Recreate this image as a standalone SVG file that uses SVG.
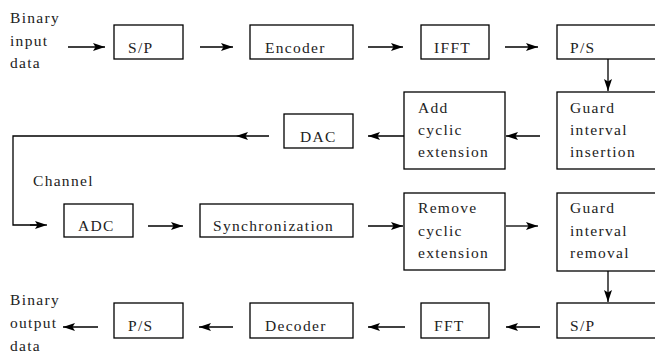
<svg xmlns="http://www.w3.org/2000/svg" width="655" height="354" viewBox="0 0 655 354">
<defs>
<marker id="ah" viewBox="0 0 12 9" refX="12" refY="4.5" markerWidth="12" markerHeight="9" markerUnits="userSpaceOnUse" orient="auto">
<path d="M0,0.5 L12,4.5 L0,8.5 L2.5,4.5 Z" fill="#000"/>
</marker>
<style>
.box{fill:#fff;stroke:#000;stroke-width:1.3}
.t{font-family:"Liberation Serif","Times New Roman",serif;font-size:15.5px;letter-spacing:1.3px;fill:#222}
.c{fill:none;stroke:#000;stroke-width:1.3;marker-end:url(#ah)}
.l{fill:none;stroke:#000;stroke-width:1.3}
</style>
</defs>
<rect width="655" height="354" fill="#fff"/>
<g id="connectors">
<path class="c" d="M68,47 H105"/>
<path class="c" d="M200,47 H233"/>
<path class="c" d="M368,47 H403"/>
<path class="c" d="M505,47 H538"/>
<path class="c" d="M608,59 V91"/>
<path class="c" d="M540,136 H506"/>
<path class="c" d="M404,136 H368"/>
<path class="c" d="M269,136 H236"/>
<path class="l" d="M236,136 H13 V225 H40"/>
<path class="c" d="M30,225 H47"/>
<path class="c" d="M148,226 H183"/>
<path class="c" d="M368,226 H403"/>
<path class="c" d="M506,226 H538"/>
<path class="c" d="M608,271 V302"/>
<path class="c" d="M540,327 H506"/>
<path class="c" d="M405,327 H368"/>
<path class="c" d="M233,327 H199"/>
<path class="c" d="M98,327 H63"/>
</g>
<g id="in-label"><text class="t" x="10" y="23">Binary</text><text class="t" x="10" y="46">input</text><text class="t" x="10" y="68">data</text></g>
<g id="sp1"><rect class="box" x="114" y="25" width="69" height="34"/><text class="t" x="128" y="53">S/P</text></g>
<g id="encoder"><rect class="box" x="250" y="25" width="103" height="34"/><text class="t" x="265" y="53">Encoder</text></g>
<g id="ifft"><rect class="box" x="421" y="25" width="68" height="34"/><text class="t" x="434" y="53">IFFT</text></g>
<g id="ps1"><rect class="box" x="557" y="25" width="100" height="34"/><text class="t" x="570" y="53">P/S</text></g>
<g id="gi-ins"><rect class="box" x="557" y="92" width="100" height="77"/><text class="t" x="570" y="113">Guard</text><text class="t" x="570" y="135">interval</text><text class="t" x="570" y="157">insertion</text></g>
<g id="add-cyc"><rect class="box" x="404" y="92" width="101" height="77"/><text class="t" x="418" y="113">Add</text><text class="t" x="418" y="135">cyclic</text><text class="t" x="418" y="157">extension</text></g>
<g id="dac"><rect class="box" x="284" y="114" width="69" height="34"/><text class="t" x="300" y="142">DAC</text></g>
<g id="channel"><text class="t" x="33" y="186">Channel</text></g>
<g id="adc"><rect class="box" x="64" y="204" width="69" height="33"/><text class="t" x="78" y="231">ADC</text></g>
<g id="sync"><rect class="box" x="200" y="204" width="153" height="33"/><text class="t" x="213" y="231">Synchronization</text></g>
<g id="rem-cyc"><rect class="box" x="404" y="193" width="101" height="77"/><text class="t" x="418" y="213">Remove</text><text class="t" x="418" y="236">cyclic</text><text class="t" x="418" y="258">extension</text></g>
<g id="gi-rem"><rect class="box" x="557" y="193" width="100" height="78"/><text class="t" x="570" y="213">Guard</text><text class="t" x="570" y="236">interval</text><text class="t" x="570" y="258">removal</text></g>
<g id="sp2"><rect class="box" x="557" y="303" width="100" height="35"/><text class="t" x="570" y="331">S/P</text></g>
<g id="fft"><rect class="box" x="421" y="303" width="68" height="35"/><text class="t" x="434" y="331">FFT</text></g>
<g id="decoder"><rect class="box" x="250" y="303" width="103" height="35"/><text class="t" x="265" y="331">Decoder</text></g>
<g id="ps2"><rect class="box" x="114" y="303" width="69" height="35"/><text class="t" x="128" y="331">P/S</text></g>
<g id="out-label"><text class="t" x="10" y="305">Binary</text><text class="t" x="10" y="328">output</text><text class="t" x="10" y="351">data</text></g>
</svg>
